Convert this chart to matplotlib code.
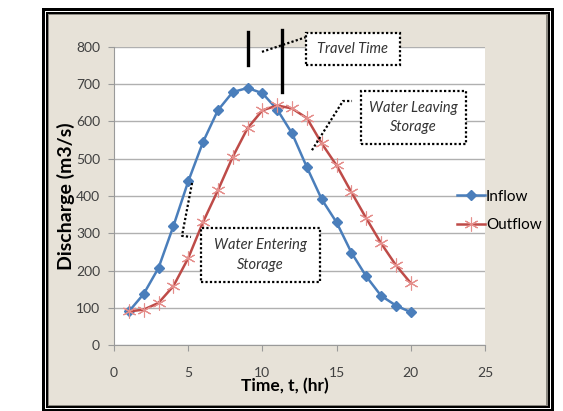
import matplotlib
matplotlib.use("Agg")
import matplotlib.pyplot as plt
from matplotlib.patches import Rectangle
from matplotlib.lines import Line2D

# data
time_hr = list(range(1, 21))
inflow = [90, 137, 207, 319, 439, 545, 630, 679, 690, 676,
          632, 568, 477, 391, 329, 248, 184, 132, 106, 88]
outflow = [90, 95, 113, 158, 233, 330, 415, 505, 582, 630,
           643, 635, 609, 541, 482, 410, 340, 273, 214, 166]
x_ticks = [0, 5, 10, 15, 20, 25]
y_ticks = [0, 100, 200, 300, 400, 500, 600, 700, 800]

W, H = 563, 411
plt.rcParams['font.family'] = ['Lato', 'DejaVu Sans']

fig = plt.figure(figsize=(W / 100, H / 100), dpi=100)
fig.patch.set_facecolor('white')


def px_rect(x0, y0, x1, y1, **kw):
    # rectangle given in pixel coords (origin top-left)
    r = Rectangle((x0 / W, 1 - y1 / H), (x1 - x0) / W, (y1 - y0) / H,
                  transform=fig.transFigure, zorder=-10, **kw)
    fig.patches.append(r)


# picture frame
px_rect(42, 8, 554, 412, facecolor='black', edgecolor='none')
px_rect(45, 11, 551, 409, facecolor='white', edgecolor='none')
px_rect(46, 12, 550, 408, facecolor='black', edgecolor='none')
px_rect(48, 14, 548, 406, facecolor='#8a8780', edgecolor='none')
px_rect(49, 15, 546, 405, facecolor='#e7e2d8', edgecolor='none')

ax = fig.add_axes([114 / W, (H - 345) / H, (485 - 114) / W, (345 - 47) / H])
ax.set_facecolor('white')

ax.plot(time_hr, inflow, color='#4a7ebb', lw=1.8, marker='D', ms=5,
        label='Inflow', zorder=3)
ax.plot(time_hr, outflow, color='#be4b48', lw=1.8, marker=(6, 2, 0), ms=10,
        mew=0.8, mec='#e58f8c', label='Outflow', zorder=3)

ax.set_xlim(0, 25)
ax.set_ylim(0, 800)
ax.set_xticks(x_ticks)
ax.set_yticks(y_ticks)
ax.yaxis.grid(True, color='#b0b0b0', lw=1)
ax.set_axisbelow(True)
for s in ['top', 'right']:
    ax.spines[s].set_visible(False)
for s in ['left', 'bottom']:
    ax.spines[s].set_color('#9a9a9a')
ax.tick_params(axis='both', colors='#9a9a9a', labelcolor='#404040',
               labelsize=10, length=4)
ax.tick_params(axis='x', pad=12)
ax.tick_params(axis='y', pad=6)

fig.text(66 / W, 1 - 196 / H, 'Discharge (m3/s)', rotation=90,
         ha='center', va='center', fontsize=14, fontweight='bold')
fig.text(285 / W, 1 - 386 / H, 'Time, t, (hr)', ha='center', va='center',
         fontsize=12.5, fontweight='bold')

# annotations
def dotted_box(x0, x1, y0, y1, label):
    ax.add_patch(Rectangle((x0, y0), x1 - x0, y1 - y0, facecolor='white',
                           edgecolor='black', ls=(0, (1, 1)), lw=1.6,
                           clip_on=False, zorder=4))
    ax.text((x0 + x1) / 2, (y0 + y1) / 2, label, ha='center', va='center',
            style='italic', fontsize=10.5, color='#333333', zorder=5,
            linespacing=1.5, clip_on=False)


def dotted_line(xs, ys):
    ax.add_line(Line2D(xs, ys, color='black', ls=(0, (1, 1)), lw=1.6,
                       clip_on=False, zorder=4))


dotted_box(12.94, 19.27, 752, 838, 'Travel Time')
dotted_box(16.64, 23.72, 540, 682, 'Water Leaving\nStorage')
dotted_box(5.86, 13.88, 169, 314, 'Water Entering\nStorage')

dotted_line([9.97, 12.9], [787, 826])
dotted_line([13.34, 15.43, 16.04], [523, 655, 655])
dotted_line([5.26, 4.58, 5.19], [435, 293, 290])

ax.add_line(Line2D([9.03, 9.03], [752, 840], color='black', lw=2.4,
                   clip_on=False, zorder=4))
ax.add_line(Line2D([11.32, 11.32], [679, 846], color='black', lw=2.4,
                   clip_on=False, zorder=4))

ax.legend(loc='center left', bbox_to_anchor=(457 / W, 1 - 211 / H),
          bbox_transform=fig.transFigure, frameon=False, fontsize=11,
          borderpad=0, borderaxespad=0, handlelength=1.8,
          handletextpad=0.1, labelspacing=0.95)

fig.savefig('out.png', dpi=100)
